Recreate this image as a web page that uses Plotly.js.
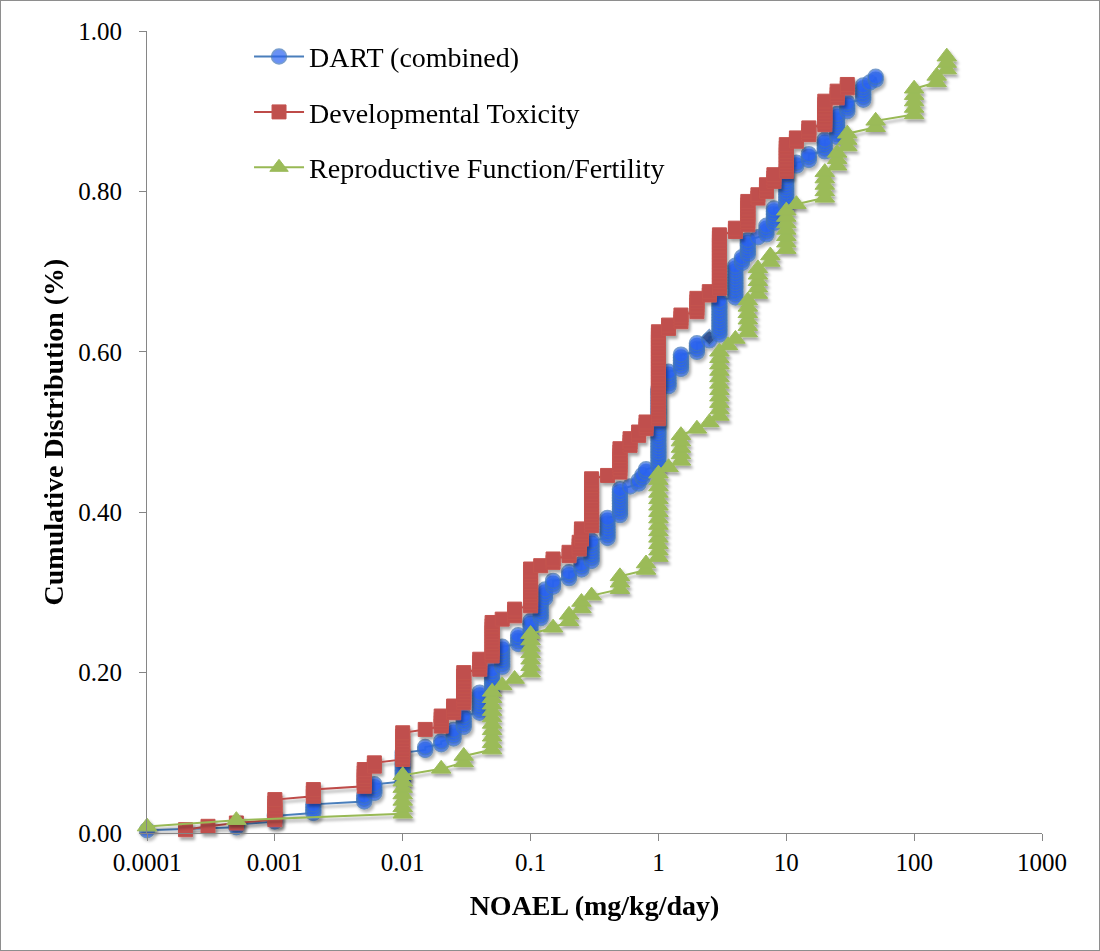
<!DOCTYPE html>
<html>
<head>
<meta charset="utf-8">
<script src="https://cdn.plot.ly/plotly-3.0.1.min.js"></script>
<style>
  html, body { margin: 0; padding: 0; background: #ffffff; }
  #chart { width: 1100px; height: 951px; box-sizing: border-box; border: 1px solid #8e8e8e; }
</style>
</head>
<body>
<div id="chart"></div>
<script>
// ---- Data (NOAEL value, number of studies at that value) ----
const dartNoael = [0.0001,0.0005,0.001,0.002,0.005,0.006,0.01,0.015,0.02,0.025,0.03,0.04,0.05,0.06,0.08,0.1,0.12,0.13,0.15,0.2,0.25,0.3,0.4,0.5,0.6,0.7,0.75,0.8,1,1.2,1.5,2,2.5,3,4,4.5,5,6,7,8,10,12,15,20,25,30,40,45,50];
const dartCounts = [1,2,3,4,3,4,11,2,2,4,5,8,8,8,4,5,7,4,3,3,3,8,8,10,1,2,2,2,28,6,6,4,2,13,12,3,6,1,4,6,14,2,3,5,9,4,6,1,2];
const dartTotal = 280;
const dartHighlightNoael = 2.5;   // the dark diamond point on the DART curve

const devNoael = [0.0002,0.0003,0.0005,0.001,0.002,0.005,0.006,0.01,0.015,0.02,0.025,0.03,0.04,0.05,0.06,0.075,0.1,0.12,0.15,0.2,0.24,0.25,0.3,0.4,0.5,0.6,0.7,0.8,1,1.2,1.5,2,2.5,3,4,5,6,7,8,10,12,15,20,25,30];
const devCounts = [1,1,1,7,3,6,2,9,1,4,3,10,4,11,1,3,12,1,2,2,3,4,15,1,8,3,2,3,27,2,3,5,2,17,2,8,2,3,3,9,2,3,8,3,2];
const devTotal = 240;

const reproNoael = [0.0001,0.0005,0.01,0.02,0.03,0.05,0.06,0.075,0.1,0.15,0.2,0.25,0.3,0.5,0.8,1,1.2,1.5,2,2.5,3,3.5,4,5,6,7.5,10,12,20,25,30,50,100,150,180];
const reproCounts = [1,1,7,1,2,10,1,1,7,1,2,2,1,3,2,14,1,5,1,1,11,1,1,6,5,2,7,1,5,3,3,2,5,2,3];
const reproTotal = 125;

const seriesNames = ["DART (combined)", "Developmental Toxicity", "Reproductive Function/Fertility"];
const xTickVals = [0.0001,0.001,0.01,0.1,1,10,100,1000];
const xTickText = ["0.0001","0.001","0.01","0.1","1","10","100","1000"];
const yTickVals = [0,0.2,0.4,0.6,0.8,1.0];
const yTickText = ["0.00","0.20","0.40","0.60","0.80","1.00"];

// cumulative distribution built from the counts
function cumulative(noael, counts, total) {
  const xs = [], ys = [];
  let c = 0;
  for (let i = 0; i < noael.length; i++) {
    for (let k = 0; k < counts[i]; k++) {
      c += 1;
      xs.push(noael[i]);
      ys.push(c / total);
    }
  }
  return {x: xs, y: ys};
}

const dart = cumulative(dartNoael, dartCounts, dartTotal);
const dev = cumulative(devNoael, devCounts, devTotal);
const repro = cumulative(reproNoael, reproCounts, reproTotal);

// highlight: last point at the highlight NOAEL on DART curve
const hiIdx = dart.x.lastIndexOf(dartHighlightNoael);
const dartSymbols = dart.x.map((v, i) => i === hiIdx ? "diamond" : "circle");
const dartColors = dart.x.map((v, i) => i === hiIdx ? "#1f3d6e" : "#2a63ef");
const dartSizes = dart.x.map((v, i) => i === hiIdx ? 12 : 15);

const FONT = "Liberation Serif, Times New Roman, serif";

const traces = [
  {
    x: dart.x, y: dart.y, name: seriesNames[0], type: "scatter", mode: "lines+markers",
    legendgroup: "a", cliponaxis: false,
    line: {color: "#4a7ebb", width: 2},
    marker: {symbol: dartSymbols, size: dartSizes, color: dartColors, line: {color: "#3f74b8", width: 1.5}}
  },
  {
    x: dev.x, y: dev.y, name: seriesNames[1], type: "scatter", mode: "lines+markers",
    legendgroup: "b", cliponaxis: false,
    line: {color: "#be4b48", width: 2},
    marker: {symbol: "square", size: 14, color: "#c0504d", line: {color: "#c4534f", width: 1}}
  },
  {
    x: repro.x, y: repro.y, name: seriesNames[2], type: "scatter", mode: "lines+markers",
    legendgroup: "c", cliponaxis: false,
    line: {color: "#98b954", width: 2},
    marker: {symbol: "triangle-up", size: 17, color: "#9bbb59", line: {color: "#9bbb59", width: 1}}
  }
];

const layout = {
  width: 1098, height: 949,
  margin: {l: 146, r: 57, t: 30, b: 117},
  paper_bgcolor: "#ffffff", plot_bgcolor: "#ffffff",
  font: {family: FONT, color: "#000000", size: 25},
  showlegend: true,
  legend: {
    x: 0.114, y: 0.999, xanchor: "left", yanchor: "top",
    bgcolor: "rgba(255,255,255,0)", borderwidth: 0,
    font: {family: FONT, size: 28, color: "#000000"},
    tracegroupgap: 16, itemwidth: 50
  },
  xaxis: {
    type: "log", range: [-4, 3],
    tickvals: xTickVals, ticktext: xTickText,
    showgrid: false, zeroline: false,
    showline: true, linecolor: "#868686", linewidth: 1,
    ticks: "outside", ticklen: 7, tickcolor: "#868686",
    tickfont: {family: FONT, size: 25, color: "#000000"},
    title: {text: "<b>NOAEL (mg/kg/day)</b>", font: {family: FONT, size: 28, color: "#000000"}, standoff: 20},
    automargin: false
  },
  yaxis: {
    range: [0, 1],
    tickvals: yTickVals, ticktext: yTickText,
    showgrid: false, zeroline: false,
    showline: true, linecolor: "#868686", linewidth: 1,
    ticks: "outside", ticklen: 7, tickcolor: "#868686",
    ticklabelstandoff: 12,
    tickfont: {family: FONT, size: 25, color: "#000000"},
    title: {text: "<b>Cumulative Distribution (%)</b>", font: {family: FONT, size: 28, color: "#000000"}, standoff: 6},
    automargin: false
  }
};

Plotly.newPlot("chart", traces, layout, {displayModeBar: false, staticPlot: true}).then(function (gd) {
  // soft drop shadow under the marks, as in the reference
  const svgNS = "http://www.w3.org/2000/svg";
  const svg = gd.querySelector("svg.main-svg");
  let defs = svg.querySelector("defs");
  if (!defs) { defs = document.createElementNS(svgNS, "defs"); svg.insertBefore(defs, svg.firstChild); }
  const f = document.createElementNS(svgNS, "filter");
  f.setAttribute("id", "markShadow");
  f.setAttribute("x", "-50%"); f.setAttribute("y", "-50%");
  f.setAttribute("width", "200%"); f.setAttribute("height", "200%");
  const ds = document.createElementNS(svgNS, "feDropShadow");
  ds.setAttribute("dx", "2"); ds.setAttribute("dy", "3");
  ds.setAttribute("stdDeviation", "1.8");
  ds.setAttribute("flood-color", "#000000");
  ds.setAttribute("flood-opacity", "0.35");
  f.appendChild(ds);
  defs.appendChild(f);
  gd.querySelectorAll(".scatterlayer .trace").forEach(function (t) {
    t.setAttribute("filter", "url(#markShadow)");
  });
});
</script>
</body>
</html>
